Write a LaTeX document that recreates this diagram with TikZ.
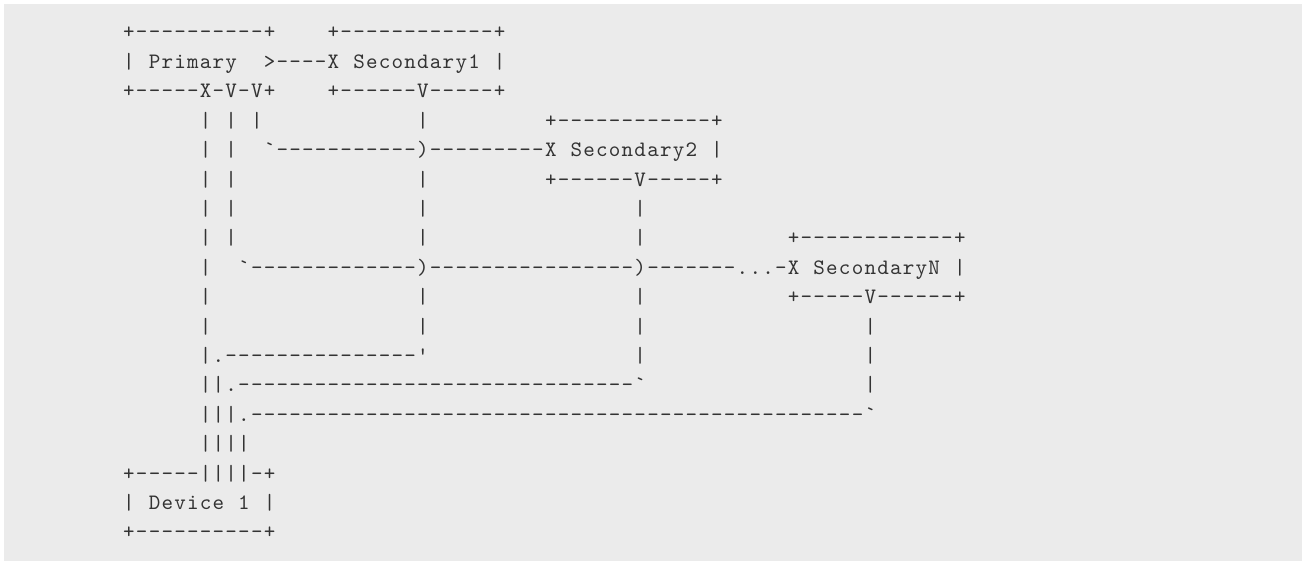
\documentclass[tikz,border=0pt]{standalone}
\usepackage{fontspec}
\setmonofont{lmmono10-regular.otf}[LetterSpace=5.6]
\definecolor{codebg}{HTML}{EBEBEB}
\definecolor{codeink}{HTML}{333333}

% rows of the ascii sketch, spaces kept as characters
\begingroup
\catcode`\ =12\relax
\gdef\rowa{+----------+    +------------+}%
\gdef\rowb{| Primary  >----X Secondary1 |}%
\gdef\rowc{+-----X-V-V+    +------V-----+}%
\gdef\rowd{      | | |            |         +------------+}%
\gdef\rowe{      | |  `-----------)---------X Secondary2 |}%
\gdef\rowf{      | |              |         +------V-----+}%
\gdef\rowg{      | |              |                |}%
\gdef\rowh{      | |              |                |           +------------+}%
\gdef\rowi{      |  `-------------)----------------)-------...-X SecondaryN |}%
\gdef\rowj{      |                |                |           +-----V------+}%
\gdef\rowk{      |                |                |                 |}%
\gdef\rowl{      |.---------------'                |                 |}%
\gdef\rowm{      ||.-------------------------------`                 |}%
\gdef\rown{      |||.------------------------------------------------`}%
\gdef\rowo{      ||||}%
\gdef\rowp{+-----||||-+}%
\gdef\rowq{| Device 1 |}%
\gdef\rowr{+----------+}%
\endgroup

\begin{document}
\begin{tikzpicture}[x=1pt,y=-1pt,
  asciirow/.style={anchor=base west,inner sep=0pt,outer sep=0pt,
    text=codeink,font=\ttfamily\fontsize{22pt}{29.4pt}\selectfont}]
\useasboundingbox (0,0) rectangle (1302,561);
\fill[codebg] (4,4) rectangle (1302,561);
\foreach \rowid [count=\k] in {a,...,r}
  \node[asciirow] (row\rowid) at (123.2,{39+(\k-1)*29.41}) {\csname row\rowid\endcsname};
\end{tikzpicture}
\end{document}
